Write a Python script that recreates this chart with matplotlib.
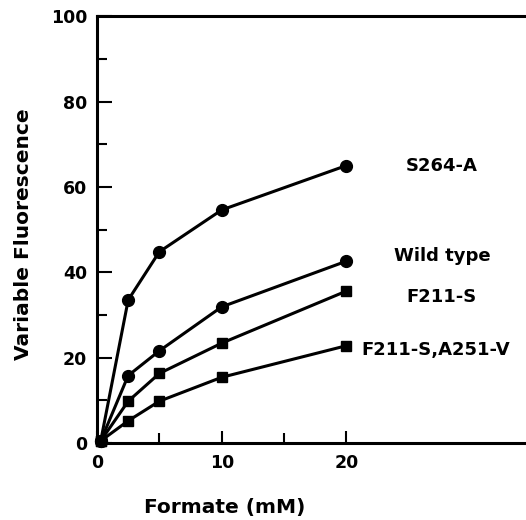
import matplotlib.pyplot as plt

plt.rcParams['font.family'] = ['DejaVu Sans']
plt.rcParams['font.weight'] = 'bold'

formate = [0.3, 2.5, 5, 10, 20]
s264a = [0.5, 33.5, 44.8, 54.6, 65.0]
wild_type = [0.5, 15.8, 21.6, 31.9, 42.6]
f211s = [0.5, 9.8, 16.3, 23.4, 35.6]
f211s_a251v = [0.5, 5.2, 9.8, 15.4, 22.8]

series = [
    ('S264-A', s264a, 'o', 27.6, 64.8, 'center'),
    ('Wild type', wild_type, 'o', 27.7, 43.7, 'center'),
    ('F211-S', f211s, 's', 27.6, 34.2, 'center'),
    ('F211-S,A251-V', f211s_a251v, 's', 21.2, 21.8, 'left'),
]

fig = plt.figure(figsize=(5.26, 5.2), dpi=100)
ax = fig.add_axes([0.1844, 0.148, 0.8156, 0.821])

for name, vals, mk, tx, ty, ha in series:
    ms = 8.5 if mk == 'o' else 7
    ax.plot(formate, vals, color='black', lw=2.2, marker=mk, ms=ms, clip_on=False)
    ax.text(tx, ty, name, ha=ha, va='center', fontsize=13, fontweight='bold')

ax.set_xlim(0, 34.4)
ax.set_ylim(0, 100)
ax.set_xticks([0, 10, 20])
ax.set_xticks([5, 15], minor=True)
ax.set_yticks([0, 20, 40, 60, 80, 100])
ax.set_yticks([10, 30, 50, 70, 90], minor=True)
ax.tick_params(which='both', direction='in', width=1.5, labelsize=12.5, top=False, right=False)
ax.tick_params(axis='y', which='major', length=11, pad=7)
ax.tick_params(axis='x', which='major', length=9, pad=8)
ax.tick_params(which='minor', length=7)
for lbl in ax.get_xticklabels() + ax.get_yticklabels():
    lbl.set_fontweight('bold')

ax.spines['right'].set_visible(False)
for s in ['left', 'bottom', 'top']:
    ax.spines[s].set_linewidth(2.2)

ax.set_xlabel('Formate (mM)', fontsize=14.5, fontweight='bold')
ax.xaxis.set_label_coords(0.298, -0.128)
ax.set_ylabel('Variable Fluorescence', fontsize=14.5, fontweight='bold')
ax.yaxis.set_label_coords(-0.149, 0.49)

fig.savefig('out.png', dpi=100)
